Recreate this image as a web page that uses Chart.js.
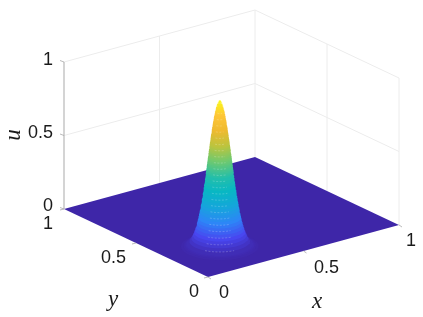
<!DOCTYPE html>
<html>
<head>
<meta charset="utf-8">
<style>
  html, body { margin: 0; padding: 0; background: #fff; }
  canvas { display: block; filter: blur(0.4px); }
</style>
<script src="https://cdn.jsdelivr.net/npm/chart.js@4"></script>
</head>
<body>
<canvas id="surface" width="423" height="317"></canvas>
<script>
// values
const xTicks = [0, 0.5, 1];
const yTicks = [0, 0.5, 1];
const uTicks = [0, 0.5, 1];
const tickText = ['0', '0.5', '1'];

// peak position on the floor, then height / radius of the contour rings
const peakX = 0.25;
const peakY = 0.25;
const peakU = [0.005, 0.01, 0.015, 0.02, 0.04, 0.06, 0.08, 0.10, 0.12, 0.14, 0.16, 0.18, 0.20, 0.22, 0.24, 0.26,
  0.28, 0.30, 0.32, 0.34, 0.36, 0.38, 0.40, 0.42, 0.44, 0.46, 0.48, 0.50, 0.51, 0.52, 0.53, 0.54, 0.55, 0.56, 0.57, 0.58, 0.59, 0.60,
  0.61, 0.62, 0.63, 0.64, 0.65, 0.66, 0.67, 0.68, 0.69, 0.70, 0.71, 0.72, 0.73, 0.74, 0.75, 0.76, 0.77, 0.78, 0.79, 0.80,
  0.81, 0.82, 0.83, 0.84, 0.85, 0.86, 0.87, 0.88, 0.89, 0.90, 0.91, 0.92, 0.93, 0.94, 0.95, 0.96, 0.97, 0.98, 0.99, 0.995];
const peakR = [0.1628, 0.1517, 0.145, 0.1399, 0.1269, 0.1186, 0.1124, 0.1073, 0.1030, 0.0991, 0.0957, 0.0926, 0.0897, 0.0870, 0.0845, 0.0821,
  0.0798, 0.0776, 0.0755, 0.0734, 0.0715, 0.0696, 0.0677, 0.0659, 0.0641, 0.0623, 0.0606, 0.0589, 0.0580, 0.0572, 0.0563, 0.0555, 0.0547, 0.0538, 0.0530, 0.0522, 0.0514, 0.0505,
  0.0497, 0.0489, 0.0481, 0.0472, 0.0464, 0.0456, 0.0447, 0.0439, 0.0431, 0.0422, 0.0414, 0.0405, 0.0397, 0.0388, 0.0379, 0.0370, 0.0362, 0.0352, 0.0343, 0.0334,
  0.0325, 0.0315, 0.0305, 0.0295, 0.0285, 0.0275, 0.0264, 0.0253, 0.0241, 0.0230, 0.0217, 0.0204, 0.0191, 0.0176, 0.0160, 0.0143, 0.0123, 0.0100, 0.0071, 0.005];

// parula
const parula = [[62,38,168],[72,71,240],[45,134,247],[21,166,218],[8,183,196],[38,191,168],[110,201,112],[188,196,62],[238,186,48],[254,198,56],[249,251,21]];

// view of the cube, in canvas units
function project(x, y, u) {
  return { x: 208 + 191 * x - 144 * y, y: 277 - 52 * x - 68 * y - 147 * u };
}

function colorAt(u) {
  const t = Math.min(u, 0.9999) * (parula.length - 1);
  const i = Math.floor(t);
  const f = t - i;
  const c = parula[i].map((v, k) => Math.round(v + (parula[i + 1][k] - v) * f));
  return 'rgb(' + c.join(',') + ')';
}

const datasets = [];

function addLine(points, color, width, dash) {
  datasets.push({ data: points, showLine: true, borderColor: color, borderWidth: width, borderDash: dash || [], pointRadius: 0, fill: false });
}

function addShape(points, color) {
  datasets.push({ data: points, showLine: true, borderWidth: 0, borderColor: color, backgroundColor: color, pointRadius: 0, fill: 'shape' });
}

// back walls
const gridColor = '#ececec';
uTicks.slice(1).forEach(u => {
  addLine([project(0, 1, u), project(1, 1, u), project(1, 0, u)], gridColor, 1);
});
xTicks.slice(1).forEach(x => addLine([project(x, 1, 0), project(x, 1, 1)], gridColor, 1));
yTicks.slice(0, 2).forEach(y => addLine([project(1, y, 0), project(1, y, 1)], gridColor, 1));

// u axis and tick stubs
const axisColor = '#bdbdbd';
addLine([project(0, 1, 0), project(0, 1, 1)], axisColor, 1.3);
uTicks.forEach(u => {
  const p = project(0, 1, u);
  addLine([p, { x: p.x - 4, y: p.y - 1.5 }], '#a8a8a8', 0.8);
});

// floor
addShape([project(0, 0, 0), project(1, 0, 0), project(1, 1, 0), project(0, 1, 0), project(0, 0, 0)], colorAt(0));

// x and y tick stubs
xTicks.forEach(x => {
  const p = project(x, 0, 0);
  addLine([p, { x: p.x + 3, y: p.y + 2 }], '#a8a8a8', 0.8);
});
yTicks.forEach(y => {
  const p = project(0, y, 0);
  addLine([p, { x: p.x - 4, y: p.y + 1 }], '#a8a8a8', 0.8);
});

// peak, low rings first so the higher ones lie on top
peakU.forEach((u, i) => {
  const ring = [];
  for (let a = 0; a <= 48; a++) {
    const t = a / 48 * 2 * Math.PI;
    ring.push(project(peakX + peakR[i] * Math.cos(t), peakY + peakR[i] * Math.sin(t), u));
  }
  addShape(ring, colorAt(u));
});

// pale mesh arcs down the middle of the front
const front = Math.atan2(-68, -52);
const arcLevels = [0.04, 0.08, 0.12, 0.16, 0.20, 0.24, 0.28, 0.32, 0.36, 0.40, 0.44, 0.48, 0.52, 0.56, 0.60, 0.64, 0.68, 0.72, 0.76, 0.80, 0.84, 0.88, 0.92];
arcLevels.forEach(u => {
  const i = peakU.indexOf(u);
  const arc = [];
  for (let a = -5; a <= 5; a++) {
    const t = front + a / 5 * 0.5;
    arc.push(project(peakX + peakR[i] * Math.cos(t), peakY + peakR[i] * Math.sin(t), u));
  }
  addLine(arc, 'rgba(255,255,255,0.3)', 0.7, [2, 1.5]);
});

datasets.forEach((d, i) => { d.order = datasets.length - i; });

// oblique axes: tick labels and axis names sit next to the box
const tickLabelPos = {
  u: [[53, 206], [53, 133], [53, 60]],
  y: [[199, 292], [126, 258], [53, 224]],
  x: [[229, 293], [339, 268], [416, 241]]
};

const boxLabels = {
  id: 'boxLabels',
  afterDraw(chart) {
    const c = chart.ctx;
    const sx = chart.scales.x;
    const sy = chart.scales.y;
    c.save();
    c.fillStyle = '#1a1a1a';
    c.font = '18px "Liberation Sans"';
    c.textAlign = 'right';
    c.textBaseline = 'middle';
    Object.keys(tickLabelPos).forEach(k => {
      tickLabelPos[k].forEach((p, i) => {
        c.fillText(tickText[i], sx.getPixelForValue(p[0]), sy.getPixelForValue(p[1]));
      });
    });
    c.font = 'italic 23px "Liberation Serif"';
    c.textAlign = 'center';
    c.fillText('x', sx.getPixelForValue(317), sy.getPixelForValue(302));
    c.fillText('y', sx.getPixelForValue(113), sy.getPixelForValue(300));
    c.translate(sx.getPixelForValue(14), sy.getPixelForValue(135));
    c.rotate(-Math.PI / 2);
    c.fillText('u', 0, 0);
    c.restore();
  }
};

new Chart(document.getElementById('surface').getContext('2d'), {
  type: 'scatter',
  data: { datasets: datasets },
  plugins: [boxLabels],
  options: {
    responsive: false,
    animation: false,
    layout: { padding: 0 },
    plugins: { legend: { display: false }, tooltip: { enabled: false } },
    scales: {
      x: { type: 'linear', display: false, min: 0, max: 423 },
      y: { type: 'linear', display: false, min: 0, max: 317, reverse: true }
    }
  }
});
</script>
</body>
</html>
